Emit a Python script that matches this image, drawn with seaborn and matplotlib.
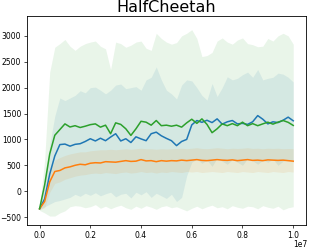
import numpy as np
import pandas as pd
import matplotlib
matplotlib.use("Agg")
import matplotlib.pyplot as plt
import seaborn as sns

# Timesteps (x axis, 1e7 offset shown by the formatter)
steps = [0.00, 0.02, 0.04, 0.06, 0.08, 0.10, 0.12, 0.14, 0.16, 0.18,
         0.20, 0.22, 0.24, 0.26, 0.28, 0.30, 0.32, 0.34, 0.36, 0.38,
         0.40, 0.42, 0.44, 0.46, 0.48, 0.50, 0.52, 0.54, 0.56, 0.58,
         0.60, 0.62, 0.64, 0.66, 0.68, 0.70, 0.72, 0.74, 0.76, 0.78,
         0.80, 0.82, 0.84, 0.86, 0.88, 0.90, 0.92, 0.94, 0.96, 0.98, 1.00]

# Blue run
blue_mean = [-340, -150, 330, 680, 900, 910, 870, 905, 917, 960,
             1013, 970, 1023, 975, 1045, 1110, 970, 1013, 940, 1050,
             1010, 975, 1110, 1140, 1070, 1020, 975, 880, 960, 1000,
             1280, 1365, 1330, 1370, 1325, 1397, 1295, 1340, 1365, 1300,
             1310, 1290, 1340, 1460, 1390, 1300, 1340, 1325, 1370, 1430, 1360]
blue_lo = [-350, -300, -250, -200, -180, -150, -120, -60, -100, -40,
           -80, -30, -90, -50, -20, -110, -60, -40, -130, -20,
           -70, -10, -120, -40, -90, -140, -60, -200, -120, 300,
           560, 620, 540, 600, 480, 640, 580, 520, 610, 560,
           500, 630, 590, 520, 600, 560, 620, 500, 580, 610, 560]
blue_hi = [-320, 100, 900, 1450, 1800, 1750, 1800, 1850, 1940, 1900,
           2000, 2010, 1950, 1880, 1950, 2050, 2070, 1980, 2000, 2020,
           1950, 2150, 2200, 2400, 2150, 1950, 1880, 1780, 2050, 2150,
           2130, 2000, 1850, 1760, 2080, 1830, 2000, 2210, 2150, 2180,
           2250, 2300, 2200, 2350, 2150, 2180, 2200, 2280, 2260, 2200, 2110]

# Orange run
orange_mean = [-340, -200, 180, 380, 400, 450, 470, 500, 520, 510,
               540, 550, 545, 570, 565, 560, 575, 590, 575, 580,
               610, 585, 590, 570, 590, 580, 590, 585, 600, 590,
               600, 610, 595, 590, 600, 610, 600, 595, 605, 590,
               600, 610, 595, 600, 590, 605, 600, 595, 600, 590, 580]
orange_lo = [-360, -320, -20, 150, 180, 230, 260, 290, 310, 320,
             340, 350, 340, 360, 350, 340, 360, 370, 350, 360,
             380, 360, 370, 350, 370, 360, 380, 370, 360, 380,
             370, 380, 360, 370, 380, 370, 360, 380, 370, 360,
             380, 370, 360, 380, 370, 360, 380, 370, 360, 380, 370]
orange_hi = [-320, -80, 380, 600, 650, 690, 720, 740, 760, 760,
             780, 790, 800, 800, 810, 800, 810, 820, 810, 820,
             830, 820, 820, 810, 820, 815, 820, 825, 830, 820,
             830, 840, 825, 820, 830, 840, 830, 820, 830, 825,
             830, 840, 825, 830, 820, 830, 825, 830, 820, 825, 820]

# Green run
green_mean = [-340, 120, 720, 1080, 1190, 1300, 1240, 1265, 1230, 1255,
              1285, 1300, 1237, 1275, 1110, 1320, 1290, 1205, 1077, 1205,
              1350, 1333, 1275, 1365, 1265, 1275, 1255, 1275, 1237, 1320,
              1390, 1310, 1397, 1290, 1130, 1205, 1300, 1265, 1305, 1265,
              1333, 1265, 1305, 1265, 1300, 1333, 1295, 1333, 1365, 1330, 1270]
green_lo = [-370, -420, -480, -480, -420, -380, -300, -280, -290, -320,
            -300, -260, -330, -290, -340, -300, -270, -320, -350, -290,
            -330, -280, -310, -350, -300, -280, -320, -300, -340, -380,
            -330, -290, -340, -300, -270, -320, -300, -340, -280, -310,
            -330, -290, -300, -340, -280, -310, -330, -290, -360, -320, -300]
green_hi = [-310, 600, 2300, 2780, 2850, 2930, 2800, 2720, 2800, 2850,
            2880, 2900, 2800, 2750, 2350, 2880, 2850, 2780, 2820, 2880,
            2900, 2760, 2720, 3050, 2950, 2880, 2840, 2870, 3000, 3050,
            3120, 2950, 2600, 2620, 2680, 2900, 2960, 2880, 2840, 2920,
            2960, 2850, 2830, 2790, 2800, 2950, 2900, 3000, 3050, 3000, 2840]

runs = {
    "C0": (blue_mean, blue_lo, blue_hi),
    "C1": (orange_mean, orange_lo, orange_hi),
    "C2": (green_mean, green_lo, green_hi),
}

x = np.array(steps) * 1e7

fig, ax = plt.subplots(figsize=(3.09, 2.49), dpi=100)
fig.subplots_adjust(left=0.087, right=0.99, top=0.936, bottom=0.096)

# shaded bands first, then lines on top
for color, (mean, lo, hi) in runs.items():
    ax.fill_between(x, lo, hi, color=color, alpha=0.1, linewidth=0)

for color, (mean, lo, hi) in runs.items():
    df = pd.DataFrame({"step": x, "reward": mean})
    sns.lineplot(data=df, x="step", y="reward", color=color, linewidth=1.1, ax=ax)

ax.set_xlim(-0.05e7, 1.05e7)
ax.set_ylim(-655, 3385)
ax.set_yticks([-500, 0, 500, 1000, 1500, 2000, 2500, 3000])
ax.set_xlabel("")
ax.set_ylabel("")
ax.set_title("HalfCheetah", fontsize=11.5, pad=3)
ax.tick_params(labelsize=5.5, length=2.5, width=0.5, pad=1.5)
# the automatic 1e7 offset lands too low, so place it by hand
ax.xaxis.get_offset_text().set_visible(False)
ax.text(1.005, -0.092, "1e7", transform=ax.transAxes, ha="right", va="center",
        fontsize=5.5)
for s in ax.spines.values():
    s.set_linewidth(0.6)

plt.savefig("out.png", dpi=100)
